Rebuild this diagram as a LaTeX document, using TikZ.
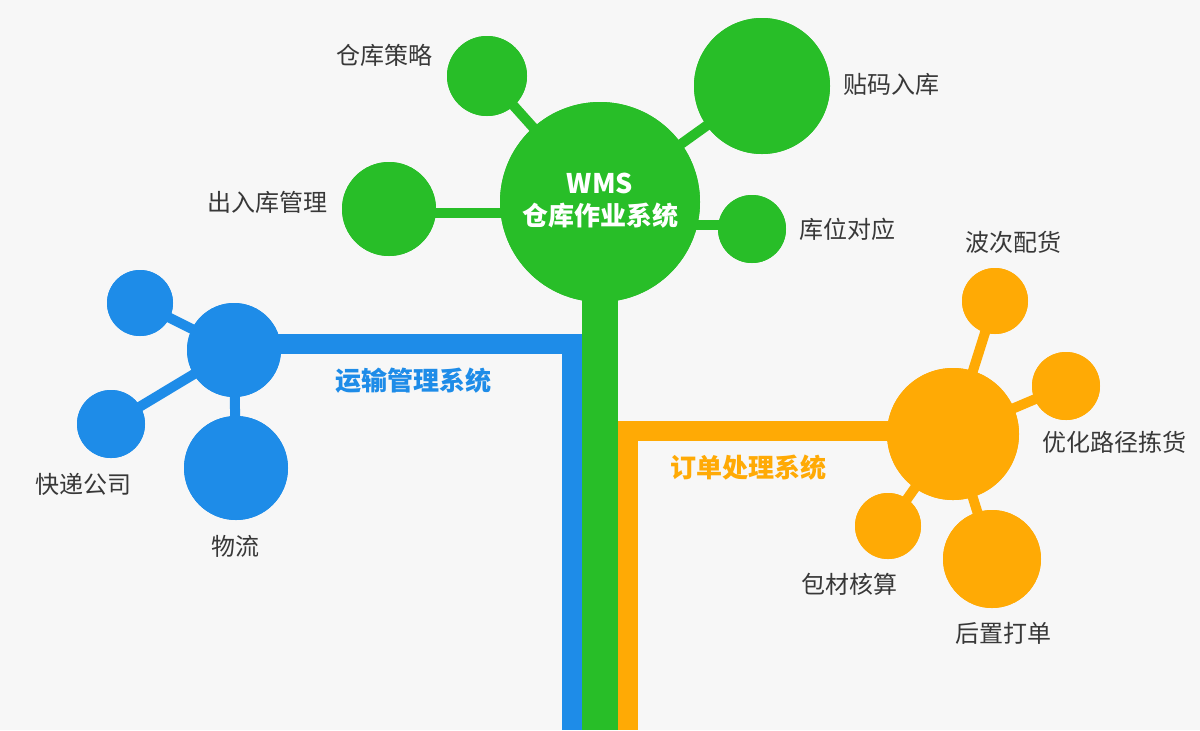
\documentclass[tikz,border=0pt]{standalone}
\usepackage{fontspec}
\setmainfont{Noto Sans CJK SC}
\definecolor{bgc}{HTML}{F7F7F7}
\definecolor{wgreen}{HTML}{28BE28}
\definecolor{wblue}{HTML}{1E8CE8}
\definecolor{worange}{HTML}{FFAA05}
\definecolor{txt}{HTML}{383838}
\tikzset{
  dot/.style n args={2}{circle, fill=#1, inner sep=0pt, minimum size=#2 pt},
  conn/.style={line width=5pt, draw=#1},
  trunk/.style={line width=#1, line join=miter, line cap=butt},
  lbl/.style={text=txt, font=\fontsize{12}{14}\selectfont, inner sep=0pt},
  catl/.style={text=#1, font=\bfseries\fontsize{13}{15}\selectfont, inner sep=0pt},
}
\begin{document}
\begin{tikzpicture}[x=0.5pt, y=-0.5pt]
\fill[bgc] (0,0) rectangle (1200,730);
\useasboundingbox (0,0) rectangle (1200,730);
\coordinate (bot1) at (572,730);
\coordinate (bot2) at (600,730);
\coordinate (bot3) at (628,730);
\node[dot={wgreen}{100}] (wms) at (600,202) {};
\node[dot={wgreen}{40}] (s1) at (487,76) {};
\node[dot={wgreen}{68}] (s2) at (762,86) {};
\node[dot={wgreen}{47}] (s3) at (389,209) {};
\node[dot={wgreen}{34}] (s4) at (752,229) {};
\node[dot={wblue}{47}] (bh) at (234,350) {};
\node[dot={wblue}{33}] (b1) at (140,303) {};
\node[dot={wblue}{34}] (b2) at (111,424) {};
\node[dot={wblue}{52}] (b3) at (236,468) {};
\node[dot={worange}{66}] (oh) at (953,434) {};
\node[dot={worange}{33}] (o1) at (995,301) {};
\node[dot={worange}{34}] (o2) at (1066,386) {};
\node[dot={worange}{33}] (o3) at (888,526) {};
\node[dot={worange}{49}] (o4) at (992,559) {};
\draw[trunk=18pt, draw=wgreen] (wms.center) -- (bot2);
\draw[trunk=10pt, draw=wblue] (bh.center |- 0,344) -- (bot1 |- 0,344) -- (bot1);
\draw[trunk=10pt, draw=worange] (oh.center |- 0,431) -- (bot3 |- 0,431) -- (bot3);
\draw[conn=wgreen] (s1.center) -- (wms.center);
\draw[conn=wgreen] (s2.center) -- (wms.center);
\draw[conn=wgreen] (s3.center |- 0,213) -- (wms.center |- 0,213);
\draw[conn=wgreen] (s4.center |- 0,225) -- (wms.center |- 0,225);
\draw[conn=wblue] (b1.center) -- (bh.center);
\draw[conn=wblue] (b2.center) -- (bh.center);
\draw[conn=wblue] (b3.center) -- (bh.center);
\draw[conn=worange] (o1.center) -- (oh.center);
\draw[conn=worange] (o2.center) -- (oh.center);
\draw[conn=worange] (o3.center) -- (oh.center);
\draw[conn=worange] (o4.center) -- (oh.center);
\foreach \n/\c/\r in {wms/wgreen/100, s1/wgreen/40, s2/wgreen/68, s3/wgreen/47, s4/wgreen/34,
  bh/wblue/47, b1/wblue/33, b2/wblue/34, b3/wblue/52,
  oh/worange/66, o1/worange/33, o2/worange/34, o3/worange/33, o4/worange/49}
  \fill[\c] (\n.center) circle[radius=\r*0.5pt];
\node[text=white, font=\bfseries\fontsize{13.5}{15}\selectfont, inner sep=0pt] (t0a) at (600,183) {WMS};
\node[text=white, font=\bfseries\fontsize{13}{15}\selectfont, inner sep=0pt] (t0b) at (600,216) {仓库作业系统};
\node[lbl] (t1) at (384,55) {仓库策略};
\node[lbl] (t2) at (891,84) {贴码入库};
\node[lbl] (t3) at (267,202) {出入库管理};
\node[lbl] (t4) at (847,229) {库位对应};
\node[lbl] (tb2) at (83,484) {快递公司};
\node[lbl] (tb3) at (235,546) {物流};
\node[lbl] (to1) at (1013,242) {波次配货};
\node[lbl] (to2) at (1114,442) {优化路径拣货};
\node[lbl] (to3) at (849,584) {包材核算};
\node[lbl] (to4) at (1003,633) {后置打单};
\node[catl=wblue] (tb) at (413,381) {运输管理系统};
\node[catl=worange] (to) at (748,468) {订单处理系统};
\end{tikzpicture}
\end{document}
